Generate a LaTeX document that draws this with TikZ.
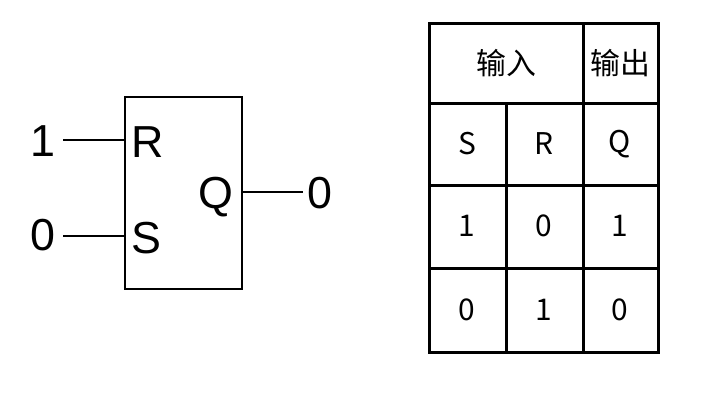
\documentclass[tikz,border=0pt]{standalone}
\usepackage{fontspec}
\setmainfont{Liberation Sans}
\newfontfamily\cjk{Noto Sans CJK SC}
\begin{document}
\begin{tikzpicture}[x=1bp,y=-1bp,
  wire/.style={line width=2.8bp},
  big/.style={font=\fontsize{45}{45}\selectfont, inner sep=0pt, anchor=base},
  cell/.style={font=\cjk\fontsize{30}{30}\selectfont, inner sep=0pt},
  grid/.style={line width=3bp}]
\useasboundingbox (0,0) rectangle (701,418);
% flip-flop box
\draw[wire] (125,97) rectangle (242,289);
\coordinate (rin) at (125,140);
\coordinate (sin) at (125,236);
\coordinate (qout) at (242,192);
\node[big] (one) at (43,156) {1};
\node[big] (zl) at (43,250) {0};
\node[big] (zr) at (320,208) {0};
\node[big,anchor=base west] (R) at (131,157) {R};
\node[big,anchor=base west] (S) at (131,253) {S};
\node[big] (Q) at (216,208) {Q};
\draw[wire] (rin) -- (63,140) coordinate (r0);
\draw[wire] (sin) -- (63,236) coordinate (s0);
\draw[wire] (qout) -- (303,192) coordinate (q0);
% table
\draw[grid] (429,23) rectangle (658,352);
\draw[grid] (429,103) -- (658,103);
\draw[grid] (429,185) -- (658,185);
\draw[grid] (429,268) -- (658,268);
\draw[grid] (583,23) -- (583,352);
\draw[grid] (506,103) -- (506,352);
\node[cell] (in) at (506,63) {输入};
\node[cell] (out) at (620,63) {输出};
\node[cell] (hS) at (467,144) {S};
\node[cell] (hR) at (544,144) {R};
\node[cell] (hQ) at (620,144) {Q};
\node[cell] (a1) at (467,226) {1};
\node[cell] (a2) at (544,226) {0};
\node[cell] (a3) at (620,226) {1};
\node[cell] (b1) at (467,310) {0};
\node[cell] (b2) at (544,310) {1};
\node[cell] (b3) at (620,310) {0};
\end{tikzpicture}
\end{document}
